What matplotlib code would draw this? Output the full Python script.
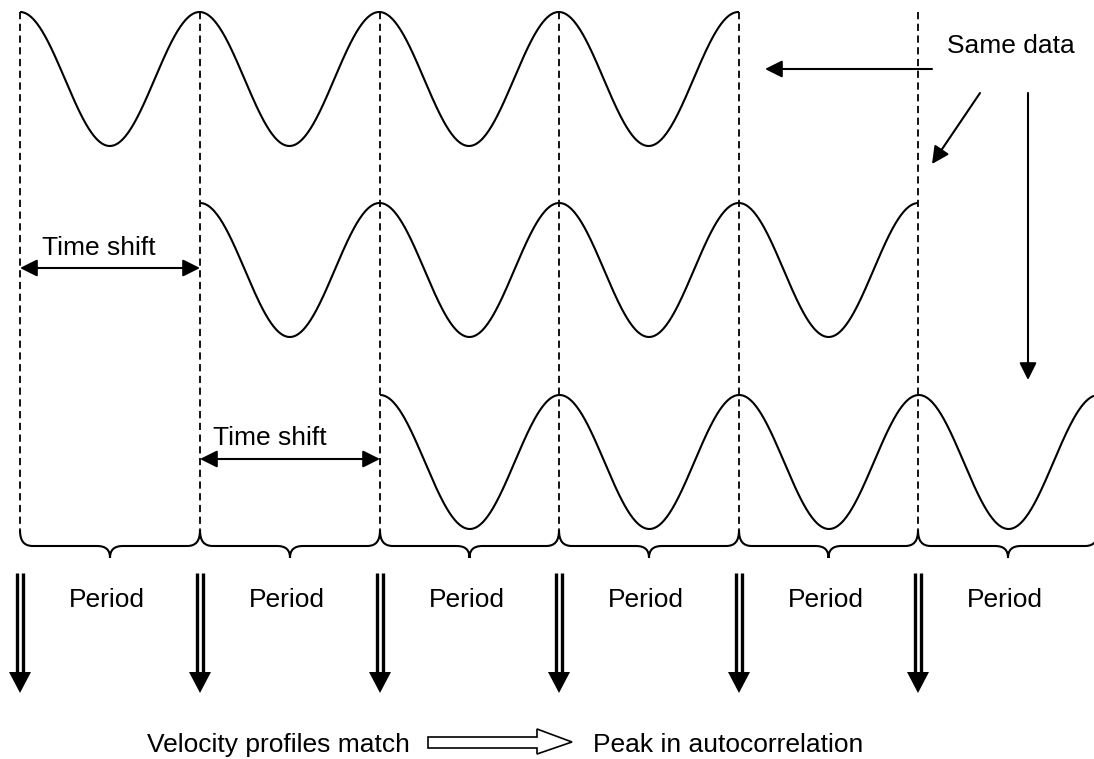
import numpy as np
import matplotlib.pyplot as plt
from matplotlib.path import Path
from matplotlib.patches import PathPatch, Polygon

plt.rcParams['font.family'] = ['Liberation Sans', 'DejaVu Sans']

# diagram layout, in pixels (y grows downward)
period_edges = [20, 200, 380, 559, 739, 918, 1098]
wave_start = [20, 200, 380]
wave_end = [739, 918, 1094]
wave_peak_y = [12, 203, 395]
wave_amp = 67
period = 179.6

period_labels = ['Period'] * 6
shift_labels = ['Time shift', 'Time shift']
shift_from = [20, 200]
shift_to = [200, 380]
shift_y = [268, 459]
shift_text_x = [42, 213]
shift_text_y = [255, 445]

fig = plt.figure(figsize=(10.94, 7.59), dpi=100)
ax = fig.add_axes([0, 0, 1, 1])
ax.set_xlim(0, 1094)
ax.set_ylim(759, 0)
ax.axis('off')

lw = 1.5
fs = 19

# cosine traces, same data shifted by one period each
for x0, x1, yp in zip(wave_start, wave_end, wave_peak_y):
    x = np.linspace(x0, x1, 800)
    y = yp + wave_amp - wave_amp * np.cos(2 * np.pi * (x - x0) / period)
    ax.plot(x, y, color='black', lw=lw, solid_capstyle='butt')

# dashed period markers
for xe in period_edges[:-1]:
    ax.plot([xe, xe], [12, 530], color='black', lw=1.3, dashes=(4, 2.5))

# braces under each period
def brace(x0, x1, ytop=530, yh=546, ytip=558):
    m = (x0 + x1) / 2
    verts = [(x0, ytop), (x0, 541), (x0 + 4, yh), (x0 + 13, yh),
             (m - 13, yh),
             (m - 4, yh), (m, 550), (m, ytip),
             (m, 550), (m + 4, yh), (m + 13, yh),
             (x1 - 13, yh),
             (x1 - 4, yh), (x1, 541), (x1, ytop)]
    codes = [Path.MOVETO, Path.CURVE4, Path.CURVE4, Path.CURVE4,
             Path.LINETO,
             Path.CURVE4, Path.CURVE4, Path.CURVE4,
             Path.CURVE4, Path.CURVE4, Path.CURVE4,
             Path.LINETO,
             Path.CURVE4, Path.CURVE4, Path.CURVE4]
    ax.add_patch(PathPatch(Path(verts, codes), fill=False, color='black', lw=lw))

for a, b, lab in zip(period_edges[:-1], period_edges[1:], period_labels):
    brace(a, b)
    ax.text((a + b) / 2 - 3, 607, lab, fontsize=fs, ha='center', va='baseline')

# double-shafted down arrows
for xe in period_edges[:-1]:
    for dx in (-3.4, 3.4):
        ax.plot([xe + dx, xe + dx], [573, 673], color='black', lw=2.4,
                solid_capstyle='butt')
    ax.add_patch(Polygon([(xe - 11, 672), (xe + 11, 672), (xe, 693)],
                         closed=True, color='black', lw=0))

# time shift arrows
for a, b, yy, tx, ty, lab in zip(shift_from, shift_to, shift_y,
                                 shift_text_x, shift_text_y, shift_labels):
    ax.annotate('', xy=(a, yy), xytext=(b, yy),
                arrowprops=dict(arrowstyle='<|-|>', color='black', lw=lw,
                                mutation_scale=26, shrinkA=0, shrinkB=0))
    ax.text(tx, ty, lab, fontsize=fs, ha='left', va='baseline')

# "Same data" pointers
ax.text(947, 53, 'Same data', fontsize=fs, ha='left', va='baseline')
for start, end in [((932, 69), (765, 69)), ((980, 93), (932, 164)),
                   ((1028, 93), (1028, 380))]:
    ax.annotate('', xy=end, xytext=start,
                arrowprops=dict(arrowstyle='-|>', color='black', lw=lw,
                                mutation_scale=26, shrinkA=0, shrinkB=0))

# bottom conclusion
ax.text(147, 752, 'Velocity profiles match', fontsize=fs, ha='left', va='baseline')
ax.text(593, 752, 'Peak in autocorrelation', fontsize=fs, ha='left', va='baseline')
ax.add_patch(Polygon([(428, 737), (537, 737), (537, 729), (572, 742),
                      (537, 754), (537, 748), (428, 748)],
                     closed=True, facecolor='white', edgecolor='black', lw=1.2))

fig.savefig('out.png', dpi=100)
